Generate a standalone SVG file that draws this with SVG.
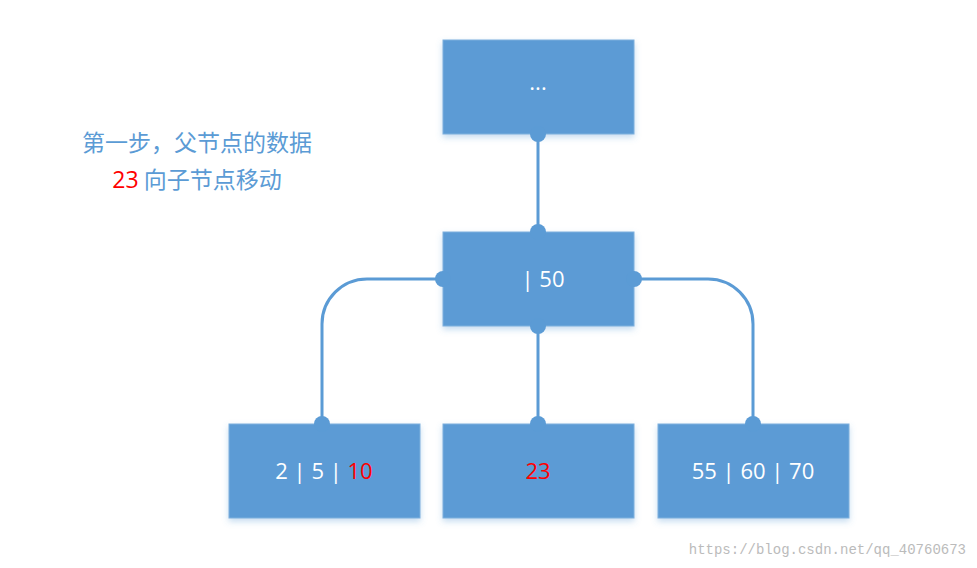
<svg xmlns="http://www.w3.org/2000/svg" width="977" height="568" viewBox="0 0 977 568">
<defs>
<filter id="sh" x="-10%" y="-10%" width="120%" height="130%"><feDropShadow dx="0" dy="3" stdDeviation="3" flood-color="#5B9BD5" flood-opacity="0.35"/></filter>
</defs>
<style>
.box{fill:#5B9BD5;stroke:#7fb0dd;stroke-width:1;filter:url(#sh)}
.t{font-family:"Open Sans","Liberation Sans",sans-serif;font-size:22px;fill:#fff;text-anchor:middle}
.r{fill:#ff0000}
.c{fill:none;stroke:#5B9BD5;stroke-width:3}
.d{fill:#5B9BD5}
.cap{font-family:"Noto Sans CJK SC","Open Sans",sans-serif;font-size:23px;fill:#5B9BD5;text-anchor:middle}
</style>
<rect width="977" height="568" fill="#fff"/>
<g id="connectors">
<path class="c" d="M538 134V232"/>
<path class="c" d="M538 326V424"/>
<path class="c" d="M443 279H367A45 45 0 0 0 322 324V424"/>
<path class="c" d="M634 279H708A45 45 0 0 1 753 324V424"/>
</g>
<g id="n-top"><rect class="box" x="443" y="40" width="191" height="94"/><text class="t" x="538" y="90">...</text></g>
<g id="n-mid"><rect class="box" x="443" y="232" width="191" height="94"/><text class="t" x="543" y="287">|  50</text></g>
<g id="n-left"><rect class="box" x="229" y="424" width="191" height="94"/><text class="t" x="324" y="479">2  |  5   |  <tspan class="r">10</tspan></text></g>
<g id="n-center"><rect class="box" x="443" y="424" width="191" height="94"/><text class="t r" x="538" y="479">23</text></g>
<g id="n-right"><rect class="box" x="658" y="424" width="191" height="94"/><text class="t" x="753" y="479">55  |  60  |  70</text></g>
<g id="dots">
<circle class="d" cx="538" cy="134" r="8"/><circle class="d" cx="538" cy="232" r="8"/>
<circle class="d" cx="538" cy="326" r="8"/><circle class="d" cx="538" cy="424" r="8"/>
<circle class="d" cx="443" cy="279" r="8"/><circle class="d" cx="634" cy="279" r="8"/>
<circle class="d" cx="322" cy="424" r="8"/><circle class="d" cx="753" cy="424" r="8"/>
</g>
<g id="caption">
<text class="cap" x="197" y="151">第一步，父节点的数据</text>
<text class="cap" x="197" y="188"><tspan fill="#ff0000" font-family="Open Sans,sans-serif">23</tspan> 向子节点移动</text>
</g>
<text x="966" y="554" font-family="Liberation Mono,monospace" font-size="14" fill="#bbb" text-anchor="end">https://blog.csdn.net/qq_40760673</text>
</svg>
